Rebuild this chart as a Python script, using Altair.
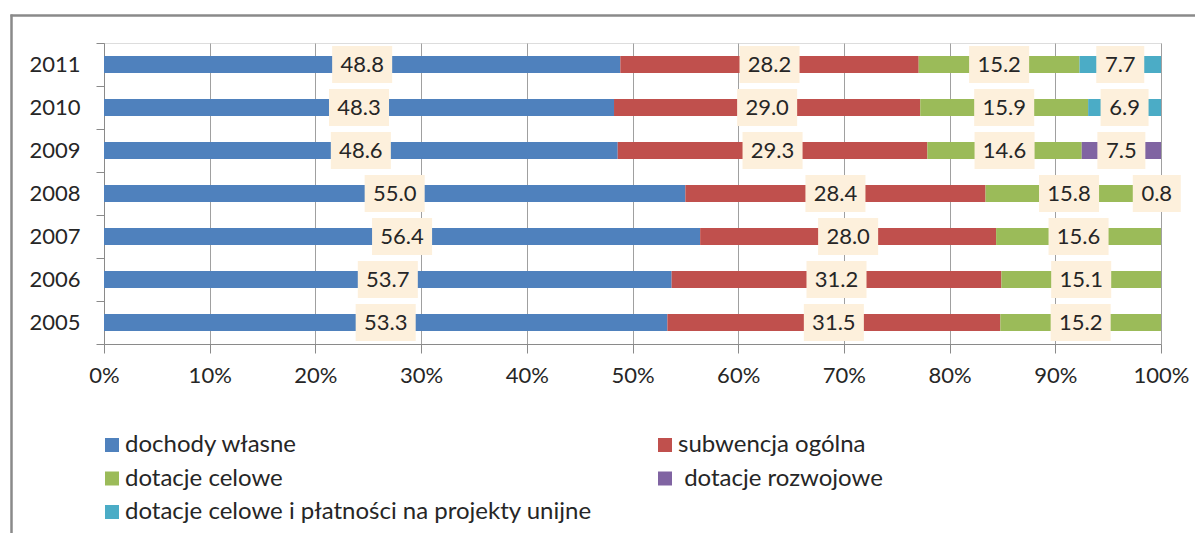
import altair as alt
import pandas as pd

years = ["2005", "2006", "2007", "2008", "2009", "2010", "2011"]
series = [
    "dochody własne",
    "subwencja ogólna",
    "dotacje celowe",
    "dotacje rozwojowe",
    "dotacje celowe i płatności na projekty unijne",
]
colors = ["#4F81BD", "#C0504D", "#9BBB59", "#8064A2", "#4BACC6"]

dochody_wlasne = [53.3, 53.7, 56.4, 55.0, 48.6, 48.3, 48.8]
subwencja_ogolna = [31.5, 31.2, 28.0, 28.4, 29.3, 29.0, 28.2]
dotacje_celowe = [15.2, 15.1, 15.6, 15.8, 14.6, 15.9, 15.2]
dotacje_rozwojowe = [None, None, None, 0.8, 7.5, None, None]
dotacje_unijne = [None, None, None, None, None, 6.9, 7.7]

x_ticks = [0, 0.1, 0.2, 0.3, 0.4, 0.5, 0.6, 0.7, 0.8, 0.9, 1.0]

# legend is laid out column by column: this order gives rows (A B), (C D), (E)
legend_order = [0, 2, 4, 1, 3]
legend_domain = [series[i] for i in legend_order]
legend_range = [colors[i] for i in legend_order]

all_vals = [dochody_wlasne, subwencja_ogolna, dotacje_celowe, dotacje_rozwojowe, dotacje_unijne]
rows = []
for si, (name, vals) in enumerate(zip(series, all_vals)):
    for yr, v in zip(years, vals):
        if v is not None:
            rows.append({"year": yr, "series": name, "order": si, "value": v,
                         "label": f"{v:.1f}"})
df = pd.DataFrame(rows)

FONT = "Lato"
TXT = "#262626"
AXC = "#8a8a8a"
year_order = years[::-1]

base = alt.Chart(df).transform_stack(
    stack="value", groupby=["year"], as_=["x0", "x1"], offset="normalize",
    sort=[alt.SortField("order", order="ascending")]
).transform_calculate(
    mid="(datum.x0 + datum.x1) / 2",
    hw="length(datum.label) > 3 ? 0.0284 : 0.0227",
).transform_calculate(
    bx0="datum.mid - datum.hw",
    bx1="datum.mid + datum.hw",
)

yenc = alt.Y(
    "year:N", sort=year_order, title=None,
    scale=alt.Scale(paddingInner=0, paddingOuter=0),
    axis=alt.Axis(
        tickBand="extent", tickSize=8, tickColor=AXC, domainColor=AXC,
        labelFont=FONT, labelFontSize=22, labelColor=TXT, labelPadding=16, grid=False,
    ),
)

bars = base.mark_bar(height=17).encode(
    x=alt.X(
        "x0:Q", title=None,
        scale=alt.Scale(domain=[0, 1], nice=False),
        axis=alt.Axis(
            values=x_ticks, format=".0%", grid=True, gridColor="#a0a0a0",
            domainColor=AXC, tickColor=AXC, tickSize=9, labelFlush=False,
            labelFont=FONT, labelFontSize=22, labelColor=TXT, labelPadding=12,
        ),
    ),
    x2="x1:Q",
    y=yenc,
    color=alt.Color(
        "series:N",
        scale=alt.Scale(domain=legend_domain, range=legend_range),
        legend=alt.Legend(
            title=None, orient="none", legendX=-4, legendY=390, columns=2,
            symbolType="square", symbolSize=196, symbolStrokeWidth=0,
            labelFont=FONT, labelFontSize=24, labelColor=TXT, labelLimit=900,
            labelExpr="datum.label == 'dotacje rozwojowe' ? '\u200b\u00a0dotacje rozwojowe' : datum.label",
            rowPadding=9.5, columnPadding=61, labelOffset=1, padding=0,
        ),
    ),
    order=alt.Order("order:Q"),
)

boxes = base.mark_bar(height=37, color="#FDF0DC").encode(
    x="bx0:Q", x2="bx1:Q", y=alt.Y("year:N", sort=year_order),
)

texts = base.mark_text(font=FONT, fontSize=22, color=TXT, baseline="middle").encode(
    x="mid:Q", y=alt.Y("year:N", sort=year_order), text="label:N",
)

frame_left = alt.Chart(alt.Data(values=[{}])).mark_rule(
    color=AXC, strokeWidth=2.5
).encode(x=alt.value(-92.5), y=alt.value(-28.5), y2=alt.value(800))

frame_top = alt.Chart(alt.Data(values=[{}])).mark_rule(
    color=AXC, strokeWidth=2.5
).encode(x=alt.value(-93.5), x2=alt.value(1400), y=alt.value(-27.5))

chart = alt.layer(bars, boxes, texts, frame_left, frame_top).properties(
    width=1057, height=301,
    autosize=alt.AutoSizeParams(type="none"),
    padding={"left": 96, "top": 35, "right": 34, "bottom": 189},
).configure_view(strokeWidth=0).configure(background="white")

chart.save("out.html", embed_options={"renderer": "svg", "actions": False})
